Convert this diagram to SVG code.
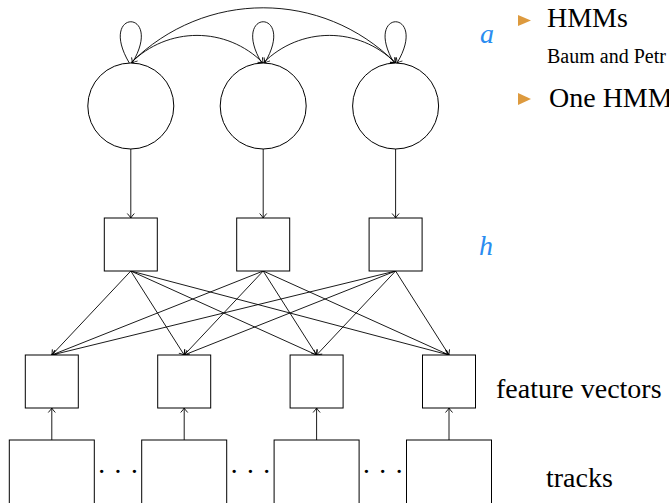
<svg xmlns="http://www.w3.org/2000/svg" width="669" height="503" viewBox="0 0 669 503">
<style>
.n{fill:#fff;stroke:#000;stroke-width:1}
.c{fill:none;stroke:#000;stroke-width:0.9}
.t{fill:#000}
.m{font-style:italic;fill:#2a8cf0;font-size:28px}
.b{fill:#dd9a3e}
</style>
<defs>
<marker id="arr" viewBox="-6 -5 7 10" markerWidth="7" markerHeight="10" refX="0" refY="0" orient="auto" markerUnits="userSpaceOnUse">
<path d="M-4.5,-3.5 Q-1.5,-0.8 0,0 Q-1.5,0.8 -4.5,3.5" fill="none" stroke="#000" stroke-width="0.9"/>
</marker>
</defs>
<g id="connectors" class="c" marker-end="url(#arr)">
<path d="M129.3,63 C96.8,8 164.8,8 132.3,63"/>
<path d="M261.7,63 C229.2,8 297.2,8 264.7,63"/>
<path d="M394.1,63 C361.6,8 429.6,8 397.1,63"/>
<path d="M130.8,63 C167.6,26.2 226.4,26.2 263.2,63"/>
<path d="M263.2,63 C300,26.2 358.8,26.2 395.6,63"/>
<path d="M130.8,63 C204.4,-10.6 322,-10.6 395.6,63"/>
<line x1="130.8" y1="149" x2="130.8" y2="218"/>
<line x1="263.2" y1="149" x2="263.2" y2="218"/>
<line x1="395.6" y1="149" x2="395.6" y2="218"/>
<line x1="130.8" y1="271" x2="51.8" y2="355"/>
<line x1="130.8" y1="271" x2="184.2" y2="355"/>
<line x1="130.8" y1="271" x2="316.6" y2="355"/>
<line x1="130.8" y1="271" x2="449" y2="355"/>
<line x1="263.2" y1="271" x2="51.8" y2="355"/>
<line x1="263.2" y1="271" x2="184.2" y2="355"/>
<line x1="263.2" y1="271" x2="316.6" y2="355"/>
<line x1="263.2" y1="271" x2="449" y2="355"/>
<line x1="395.6" y1="271" x2="51.8" y2="355"/>
<line x1="395.6" y1="271" x2="184.2" y2="355"/>
<line x1="395.6" y1="271" x2="316.6" y2="355"/>
<line x1="395.6" y1="271" x2="449" y2="355"/>
<line x1="51.8" y1="440" x2="51.8" y2="408"/>
<line x1="184.2" y1="440" x2="184.2" y2="408"/>
<line x1="316.6" y1="440" x2="316.6" y2="408"/>
<line x1="449" y1="440" x2="449" y2="408"/>
</g>
<g id="state1"><circle class="n" cx="130.8" cy="106" r="43"/></g>
<g id="state2"><circle class="n" cx="263.2" cy="106" r="43"/></g>
<g id="state3"><circle class="n" cx="395.6" cy="106" r="43"/></g>
<g id="hidden1"><rect class="n" x="104.3" y="218" width="53" height="53"/></g>
<g id="hidden2"><rect class="n" x="236.7" y="218" width="53" height="53"/></g>
<g id="hidden3"><rect class="n" x="369.1" y="218" width="53" height="53"/></g>
<g id="feature1"><rect class="n" x="25.3" y="355" width="53" height="53"/></g>
<g id="feature2"><rect class="n" x="157.7" y="355" width="53" height="53"/></g>
<g id="feature3"><rect class="n" x="290.1" y="355" width="53" height="53"/></g>
<g id="feature4"><rect class="n" x="422.5" y="355" width="53" height="53"/></g>
<g id="track1"><rect class="n" x="9.3" y="440" width="85" height="100"/></g>
<g id="track2"><rect class="n" x="141.7" y="440" width="85" height="100"/></g>
<g id="track3"><rect class="n" x="274.1" y="440" width="85" height="100"/></g>
<g id="track4"><rect class="n" x="406.5" y="440" width="85" height="100"/></g>
<g id="dots" class="t" font-family="Liberation Serif, Times New Roman, serif" font-size="28" text-anchor="middle">
<text x="118" y="481">· · ·</text>
<text x="250.4" y="481">· · ·</text>
<text x="382.8" y="481">· · ·</text>
</g>
<g id="labels" font-family="Liberation Serif, Times New Roman, serif">
<text class="m" x="480" y="43">a</text>
<text class="m" x="479" y="255">h</text>
<text class="t" x="496" y="398" font-size="28">feature vectors</text>
<text class="t" x="546" y="487" font-size="28">tracks</text>
</g>
<g id="bullets" font-family="Liberation Serif, Times New Roman, serif">
<polygon class="b" points="518,15 518,26 531,20.5"/>
<text class="t" x="547" y="27" font-size="28">HMMs</text>
<text class="t" x="547" y="63" font-size="20">Baum and Petr</text>
<polygon class="b" points="518,93 518,105 531,99"/>
<text class="t" x="549" y="106.5" font-size="28">One HMM</text>
</g>
</svg>
